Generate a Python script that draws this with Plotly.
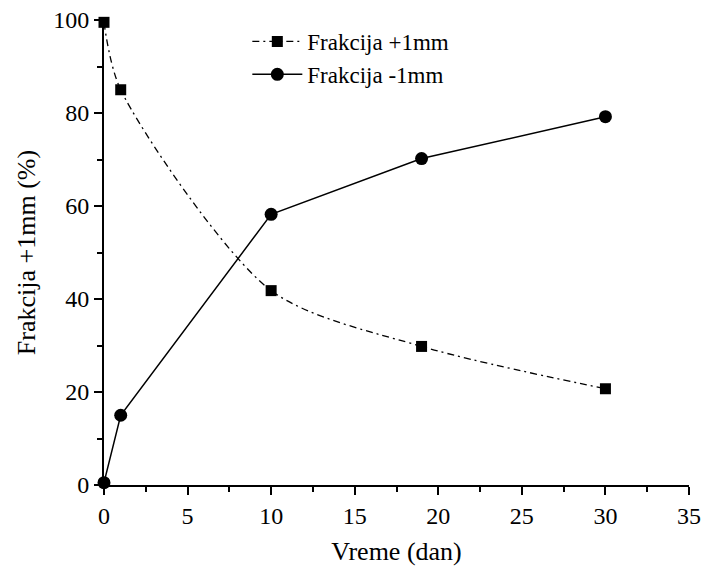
import plotly.graph_objects as go

# days
vreme = [0, 1, 10, 19, 30]
frakcija_plus = [99.5, 85.0, 41.8, 29.8, 20.7]
frakcija_minus = [0.5, 15.0, 58.2, 70.2, 79.2]

font_family = "Liberation Serif"

fig = go.Figure()

fig.add_trace(
    go.Scatter(
        x=vreme,
        y=frakcija_plus,
        mode="lines+markers",
        name="Frakcija +1mm",
        line=dict(color="black", width=1.3, dash="7px,4px,2px,4px", shape="spline", smoothing=0.8),
        marker=dict(symbol="square", size=11, color="black"),
        cliponaxis=False,
    )
)
fig.add_trace(
    go.Scatter(
        x=vreme,
        y=frakcija_minus,
        mode="lines+markers",
        name="Frakcija -1mm",
        line=dict(color="black", width=1.5),
        marker=dict(symbol="circle", size=13, color="black"),
        cliponaxis=False,
    )
)

axis_common = dict(
    showgrid=False,
    zeroline=False,
    showline=True,
    linecolor="black",
    linewidth=2,
    ticks="outside",
    ticklen=8,
    tickwidth=2,
    tickcolor="black",
    automargin=False,
    ticklabeloverflow="allow",
    tickfont=dict(family=font_family, size=24, color="black"),
    title_font=dict(family=font_family, size=26, color="black"),
    minor=dict(ticks="outside", ticklen=5, tickwidth=2, tickcolor="black"),
)

fig.update_xaxes(
    range=[0, 35],
    dtick=5,
    minor_dtick=2.5,
    title_text="Vreme (dan)",
    title_standoff=18,
    **axis_common,
)
fig.update_yaxes(
    range=[0, 100],
    dtick=20,
    minor_dtick=10,
    title_text="Frakcija +1mm (%)",
    title_standoff=10,
    **axis_common,
)

fig.update_layout(
    width=704,
    height=566,
    autosize=False,
    margin=dict(l=104, r=15, t=20, b=81),
    plot_bgcolor="white",
    paper_bgcolor="white",
    font=dict(family=font_family, size=24, color="black"),
    legend=dict(
        x=0.245,
        y=1.0,
        xanchor="left",
        yanchor="top",
        bgcolor="rgba(0,0,0,0)",
        font=dict(family=font_family, size=23, color="black"),
        tracegroupgap=0,
        itemwidth=50,
    ),
)

# drop the default body margin so the figure fills the window exactly
fig.write_html(
    "out.html",
    config={"displayModeBar": False},
    post_script="document.body.style.margin='0';",
)
